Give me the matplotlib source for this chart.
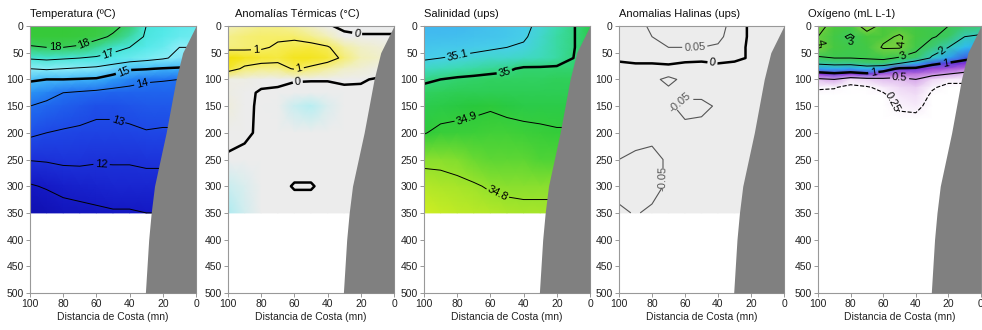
import numpy as np
import matplotlib
matplotlib.use('Agg')
import matplotlib.pyplot as plt
from matplotlib.colors import LinearSegmentedColormap, ListedColormap

plt.rcParams['font.family'] = ['Liberation Sans', 'DejaVu Sans']

# stations (distance from coast, nautical miles) and depths (m)
dist = [100, 90, 80, 70, 60, 50, 40, 30, 20, 10, 0]
depth = [0, 20, 40, 60, 80, 100, 125, 150, 200, 250, 300, 350]
oxy_depth = [0, 20, 40, 60, 70, 80, 90, 100, 115, 130, 150, 175, 200, 350]

# continental shelf / slope profile
shelf_depth = [0, 50, 100, 150, 200, 250, 300, 350, 400, 450, 500]
shelf_dist = [0, 8, 12, 15, 18, 21.5, 25, 27, 28.5, 29.5, 30.5]

temp = [
    [18.6, 18.6, 18.6, 18.5, 18.4, 18.2, 17.8, 17.0, 16.8, 16.6, 16.5],
    [18.5, 18.5, 18.5, 18.4, 18.2, 17.9, 17.5, 16.9, 16.7, 16.5, 16.4],
    [17.9, 18.0, 18.0, 17.9, 17.6, 17.3, 17.0, 16.7, 16.5, 16.0, 16.0],
    [17.1, 17.2, 17.1, 17.0, 16.9, 16.7, 16.5, 16.3, 16.1, 15.8, 15.8],
    [16.0, 16.1, 16.0, 15.9, 15.8, 15.5, 15.1, 15.05, 14.95, 14.9, 14.9],
    [15.1, 15.0, 15.0, 14.95, 14.9, 14.6, 14.3, 14.1, 14.05, 14.0, 14.0],
    [14.5, 14.3, 14.0, 13.9, 13.8, 13.7, 13.7, 13.7, 13.7, 13.7, 13.7],
    [14.0, 13.8, 13.6, 13.4, 13.2, 13.2, 13.3, 13.4, 13.4, 13.4, 13.4],
    [13.2, 13.0, 12.9, 12.85, 12.8, 12.8, 12.85, 12.95, 12.9, 12.9, 12.9],
    [12.05, 12.1, 12.2, 12.2, 12.1, 12.1, 12.1, 12.2, 12.2, 12.2, 12.2],
    [10.9, 11.1, 11.3, 11.4, 11.5, 11.6, 11.6, 11.6, 11.6, 11.6, 11.6],
    [9.95, 10.3, 10.6, 10.7, 10.8, 10.9, 10.9, 11.0, 11.0, 11.0, 11.0],
]

temp_anom = [
    [0.6, 0.7, 0.8, 0.8, 0.7, 0.5, 0.1, -0.2, -0.3, -0.3, -0.3],
    [0.8, 0.9, 0.95, 0.95, 0.95, 0.8, 0.6, 0.2, 0.1, 0.1, 0.1],
    [0.85, 0.9, 0.95, 1.05, 1.1, 1.15, 1.05, 0.7, 0.5, 0.4, 0.3],
    [1.45, 1.3, 1.2, 1.15, 1.3, 1.3, 1.2, 0.9, 0.6, 0.5, 0.4],
    [1.25, 0.9, 0.8, 0.8, 1.05, 0.9, 0.7, 0.5, 0.4, 0.3, 0.3],
    [0.3, 0.3, 0.25, 0.2, 0.05, 0.05, 0.05, 0.1, 0.05, -0.05, -0.05],
    [0.3, 0.2, -0.1, -0.15, -0.2, -0.3, -0.3, -0.15, -0.1, -0.1, -0.1],
    [0.35, 0.2, -0.15, -0.3, -0.5, -0.6, -0.4, -0.2, -0.1, -0.1, -0.1],
    [0.25, 0.1, -0.1, -0.15, -0.2, -0.2, -0.15, -0.1, -0.1, -0.1, -0.1],
    [-0.1, -0.15, -0.15, -0.15, -0.25, -0.25, -0.15, -0.1, -0.1, -0.1, -0.1],
    [-0.5, -0.4, -0.2, -0.15, 0.04, 0.04, -0.15, -0.1, -0.1, -0.1, -0.1],
    [-0.65, -0.45, -0.2, -0.15, -0.25, -0.25, -0.15, -0.1, -0.1, -0.1, -0.1],
]

salt = [
    [35.2, 35.2, 35.2, 35.18, 35.16, 35.14, 35.12, 35.08, 35.04, 35.005, 34.95],
    [35.18, 35.18, 35.17, 35.16, 35.15, 35.13, 35.11, 35.07, 35.03, 35.005, 34.95],
    [35.14, 35.13, 35.13, 35.12, 35.11, 35.10, 35.09, 35.06, 35.03, 35.005, 34.95],
    [35.11, 35.10, 35.09, 35.08, 35.07, 35.07, 35.06, 35.05, 35.03, 35.0, 34.96],
    [35.06, 35.05, 35.04, 35.03, 35.02, 35.01, 34.99, 34.99, 34.99, 34.99, 34.98],
    [35.01, 35.0, 34.99, 34.985, 34.98, 34.98, 34.98, 34.98, 34.97, 34.97, 34.97],
    [34.98, 34.97, 34.96, 34.96, 34.96, 34.96, 34.96, 34.96, 34.96, 34.96, 34.96],
    [34.95, 34.94, 34.93, 34.92, 34.91, 34.93, 34.94, 34.94, 34.94, 34.94, 34.94],
    [34.905, 34.88, 34.875, 34.87, 34.86, 34.86, 34.87, 34.88, 34.89, 34.89, 34.89],
    [34.81, 34.81, 34.815, 34.83, 34.84, 34.84, 34.84, 34.85, 34.85, 34.85, 34.85],
    [34.78, 34.785, 34.79, 34.795, 34.805, 34.81, 34.81, 34.81, 34.81, 34.81, 34.81],
    [34.75, 34.76, 34.77, 34.775, 34.78, 34.785, 34.79, 34.79, 34.79, 34.79, 34.79],
]

salt_anom = [
    [0.02, 0.03, 0.06, 0.07, 0.08, 0.08, 0.07, 0.03, -0.01, -0.02, -0.02],
    [0.02, 0.03, 0.05, 0.065, 0.07, 0.07, 0.06, 0.03, -0.01, -0.02, -0.02],
    [0.01, 0.02, 0.04, 0.05, 0.05, 0.05, 0.045, 0.02, -0.01, -0.02, -0.02],
    [0.005, 0.01, 0.02, 0.03, 0.02, 0.01, 0.02, 0.01, -0.005, -0.02, -0.02],
    [-0.01, -0.01, -0.02, -0.02, -0.03, -0.02, -0.02, -0.02, -0.02, -0.02, -0.02],
    [-0.02, -0.03, -0.04, -0.06, -0.04, -0.03, -0.03, -0.03, -0.03, -0.03, -0.03],
    [-0.02, -0.03, -0.035, -0.04, -0.04, -0.04, -0.035, -0.03, -0.03, -0.03, -0.03],
    [-0.03, -0.03, -0.04, -0.045, -0.06, -0.06, -0.045, -0.03, -0.03, -0.03, -0.03],
    [-0.04, -0.04, -0.04, -0.04, -0.04, -0.035, -0.035, -0.03, -0.03, -0.03, -0.03],
    [-0.05, -0.055, -0.06, -0.045, -0.04, -0.035, -0.03, -0.03, -0.03, -0.03, -0.03],
    [-0.06, -0.065, -0.06, -0.045, -0.04, -0.035, -0.03, -0.03, -0.03, -0.03, -0.03],
    [-0.045, -0.052, -0.045, -0.04, -0.04, -0.035, -0.03, -0.03, -0.03, -0.03, -0.03],
]

oxygen = [
    [4.2, 3.8, 3.6, 4.3, 3.8, 3.6, 3.4, 3.1, 3.0, 2.6, 2.4],
    [4.0, 3.4, 2.8, 3.7, 3.8, 4.1, 3.6, 3.1, 2.7, 2.0, 1.9],
    [4.1, 3.6, 3.2, 3.4, 4.1, 4.1, 3.3, 2.4, 2.0, 1.6, 1.4],
    [2.8, 3.0, 3.0, 3.1, 3.2, 2.9, 2.6, 1.9, 1.4, 1.1, 1.0],
    [2.1, 2.2, 2.2, 2.4, 2.5, 2.0, 1.5, 1.1, 0.95, 0.85, 0.8],
    [1.4, 1.5, 1.4, 1.6, 1.3, 0.9, 0.9, 0.75, 0.7, 0.6, 0.6],
    [0.8, 0.9, 0.8, 0.9, 0.7, 0.6, 0.6, 0.55, 0.5, 0.45, 0.45],
    [0.45, 0.5, 0.35, 0.4, 0.45, 0.45, 0.5, 0.4, 0.3, 0.3, 0.3],
    [0.27, 0.26, 0.2, 0.23, 0.3, 0.38, 0.42, 0.27, 0.2, 0.2, 0.2],
    [0.2, 0.2, 0.15, 0.18, 0.22, 0.33, 0.36, 0.22, 0.15, 0.15, 0.15],
    [0.15, 0.15, 0.12, 0.14, 0.15, 0.28, 0.3, 0.18, 0.12, 0.12, 0.12],
    [0.1, 0.1, 0.1, 0.1, 0.1, 0.2, 0.2, 0.12, 0.1, 0.1, 0.1],
    [0.1, 0.1, 0.1, 0.1, 0.1, 0.15, 0.15, 0.1, 0.1, 0.1, 0.1],
    [0.05, 0.05, 0.05, 0.05, 0.05, 0.05, 0.05, 0.05, 0.05, 0.05, 0.05],
]

titles = ['Temperatura (ºC)', 'Anomalías Térmicas (°C)', 'Salinidad (ups)',
          'Anomalias Halinas (ups)', 'Oxígeno (mL L-1)']


def make_cmap(name, nodes, vmin, vmax):
    pts = [((v - vmin) / (vmax - vmin), c) for v, c in nodes]
    return LinearSegmentedColormap.from_list(name, pts)


temp_cmap = make_cmap('temp', [(10.0, '#1010b0'), (11, '#1418c4'), (12, '#1c30d8'),
                               (13, '#1e48e6'), (14, '#2070f0'), (14.8, '#30a8f8'),
                               (15.3, '#60d0f8'), (16.0, '#90eef8'), (16.8, '#50e8e8'),
                               (17.3, '#40e0c8'), (17.8, '#38d070'), (18.2, '#3ccc48'),
                               (18.7, '#34c834')],
                      10.0, 18.7)
tanom_cmap = make_cmap('tanom', [(-1.0, '#70dcea'), (-0.6, '#b8eef2'), (-0.3, '#ececec'),
                                 (0.25, '#ececec'), (0.6, '#f2f0b8'), (1.0, '#f6ee60'),
                                 (1.3, '#f4e420'), (1.5, '#f2e000')], -1.0, 1.5)
salt_cmap = make_cmap('salt', [(34.74, '#d8f020'), (34.78, '#b4e828'), (34.82, '#78dc30'),
                               (34.86, '#40d038'), (34.92, '#28c83c'), (34.98, '#30d060'),
                               (35.04, '#3cdcb0'), (35.1, '#48d0e8'), (35.2, '#40b8f0')],
                      34.74, 35.2)
sanom_cmap = ListedColormap(['#ececec'])
oxy_cmap = make_cmap('oxy', [(0, '#ffffff'), (0.22, '#ffffff'), (0.4, '#ecd2f4'),
                             (0.6, '#b870dc'), (0.8, '#8a2ed2'), (1.0, '#4a3cd8'),
                             (1.2, '#2a8cf0'), (1.7, '#30c8f0'), (2.3, '#3cc87a'),
                             (3.0, '#3cc850'), (3.8, '#48c83c'), (4.4, '#a0d840'),
                             (4.5, '#b0dc40')], 0, 4.5)

fig = plt.figure(figsize=(9.82, 3.30), dpi=100)
lefts_px = [30, 228, 424, 619, 818]
widths_px = [166, 166, 166, 165, 163]
title_x_px = [30, 235, 424, 619, 808]
axes = []
for l, w in zip(lefts_px, widths_px):
    axes.append(fig.add_axes([l / 982, 1 - 293 / 330, w / 982, 267 / 330]))


def draw(ax, z, zdep, cmap, vmin, vmax, levels, widths, colors, styles, labels):
    X, Y = np.meshgrid(dist, zdep)
    Z = np.array(z)
    ax.pcolormesh(X, Y, Z, cmap=cmap, vmin=vmin, vmax=vmax, shading='gouraud', zorder=1)
    cs = ax.contour(X, Y, Z, levels=levels, colors=colors, linewidths=widths,
                    linestyles=styles, zorder=2)
    ax.clabel(cs, fmt='%g', fontsize=8, inline=True, inline_spacing=2, manual=labels)
    ax.fill_betweenx(shelf_depth, shelf_dist, 0, color='#808080', lw=0, zorder=5)


draw(axes[0], temp, depth, temp_cmap, 10.0, 18.7,
     [11, 12, 13, 14, 15, 16, 17, 18], [0.7, 0.7, 0.7, 0.7, 1.8, 0.7, 0.7, 0.7],
     'k', 'solid',
     [(85, 36), (67, 36), (53, 52), (44, 84), (33, 104), (47, 176), (57, 262)])
draw(axes[1], temp_anom, depth, tanom_cmap, -1.0, 1.5,
     [0, 1], [1.8, 0.8], 'k', 'solid',
     [(22, 12), (58, 104), (83, 48), (57, 84)])
draw(axes[2], salt, depth, salt_cmap, 34.74, 35.2,
     [34.8, 34.9, 35.0, 35.1], [0.7, 0.7, 1.8, 0.7], 'k', 'solid',
     [(80, 52), (51, 92), (74, 175), (55, 310)])
draw(axes[3], salt_anom, depth, sanom_cmap, -1, 1,
     [-0.05, 0, 0.05], [0.8, 1.8, 0.8], ['#555555', 'k', '#555555'], 'solid',
     [(54, 38), (45, 92), (60, 150), (76, 285)])
draw(axes[4], oxygen, oxy_depth, oxy_cmap, 0, 4.5,
     [0.25, 0.5, 1, 2, 3, 4], [0.8, 0.8, 1.8, 0.7, 0.7, 0.7], 'k',
     ['dashed', 'solid', 'solid', 'solid', 'solid', 'solid'],
     [(96, 30), (50, 32), (75, 36), (47, 58), (26, 39), (22, 66), (66, 88),
      (50, 98), (48, 135)])

for ax, t, tx in zip(axes, titles, title_x_px):
    ax.set_xlim(100, 0)
    ax.set_ylim(500, 0)
    ax.set_xticks([100, 80, 60, 40, 20, 0])
    ax.set_yticks(range(0, 501, 50))
    ax.tick_params(direction='out', length=3, width=0.6, color='#888888',
                   labelsize=7.5, labelcolor='#222222', pad=1.5)
    for s in ax.spines.values():
        s.set_color('#999999')
        s.set_linewidth(0.8)
    ax.set_xlabel('Distancia de Costa (mn)', fontsize=7.5, color='#222222', labelpad=2)
    fig.text(tx / 982, 1 - 14 / 330, t, fontsize=8, ha='left', va='center', color='#111111')

fig.savefig('out.png', dpi=100, facecolor='white')
